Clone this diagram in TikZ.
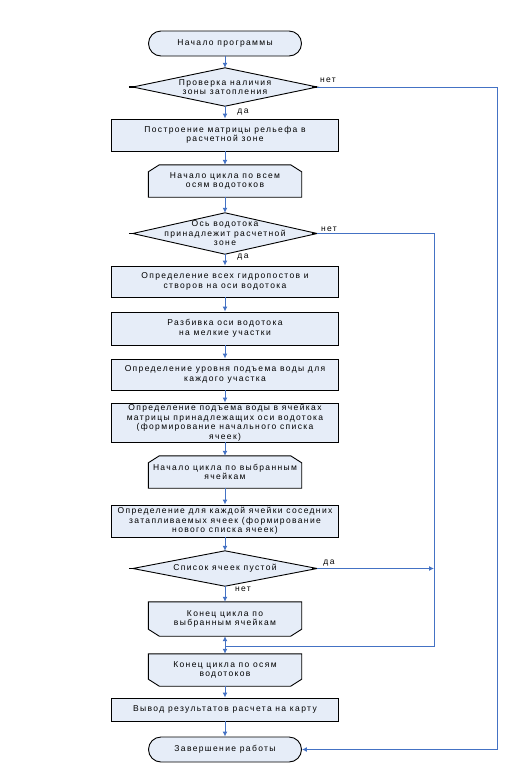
\documentclass[tikz,border=0pt]{standalone}
\usepackage{fontspec}
\newfontfamily\fc{Liberation Sans}[LetterSpace=16]
\usetikzlibrary{arrows.meta}
\definecolor{boxfill}{RGB}{230,237,248}
\definecolor{conn}{RGB}{68,114,196}
\pgfdeclarelayer{bg}
\pgfsetlayers{bg,main}
\begin{document}
\begin{tikzpicture}[x=1pt,y=-1pt,
  txt/.style={font=\fc\fontsize{8.5}{9.5}\selectfont, align=center, inner sep=0pt},
  procbox/.style={txt, draw=black, fill=boxfill, line width=0.9pt, minimum width=227pt},
  termbox/.style={txt, draw=black, fill=boxfill, line width=0.9pt, minimum width=153pt, minimum height=25pt, rounded corners=12.5pt},
  diabox/.style={txt, minimum width=184pt},
  loopbox/.style={txt, minimum width=153pt},
  shapeline/.style={draw=black, fill=boxfill, line width=0.9pt},
  stub/.style={draw=black, line width=1.8pt},
  flow/.style={draw=conn, line width=1pt, -{Latex[length=5pt,width=5pt]}},
  plain/.style={draw=conn, line width=1pt},
  lbl/.style={font=\fc\fontsize{8.5}{9.5}\selectfont, inner sep=0pt}
]
\useasboundingbox (0,0) rectangle (510,766);

% nodes
\node[termbox] (start) at (225,43.5) {Начало программы};
\node[diabox, minimum height=38pt] (d1) at (225,87) {Проверка наличия\\зоны затопления};
\node[procbox, minimum height=32pt] (r1) at (225,135) {Построение матрицы рельефа в\\расчетной зоне};
\node[loopbox, minimum height=32pt] (l1) at (225,181) {Начало цикла по всем\\осям водотоков};
\node[diabox, minimum height=41pt] (d2) at (225,233.5) {Ось водотока\\принадлежит расчетной\\зоне};
\node[procbox, minimum height=31pt] (r2) at (225,281.5) {Определение всех гидропостов и\\створов на оси водотока};
\node[procbox, minimum height=33pt] (r3) at (225,328.5) {Разбивка оси водотока\\на мелкие участки};
\node[procbox, minimum height=31pt] (r4) at (225,374.5) {Определение уровня подъема воды для\\каждого участка};
\node[procbox, minimum height=39pt] (r5) at (225,422.5) {Определение подъема воды в ячейках\\матрицы принадлежащих оси водотока\\(формирование начального списка\\ячеек)};
\node[loopbox, minimum height=32pt] (l2) at (225,472) {Начало цикла по выбранным\\ячейкам};
\node[procbox, minimum height=32pt] (r6) at (225,521) {Определение для каждой ячейки соседних\\затапливаемых ячеек (формирование\\нового списка ячеек)};
\node[diabox, minimum height=35pt] (d3) at (225,568.5) {Список ячеек пустой};
\node[loopbox, minimum height=34pt] (e1) at (225,619) {Конец цикла по\\выбранным ячейкам};
\node[loopbox, minimum height=32pt] (e2) at (225,670) {Конец цикла по осям\\водотоков};
\node[procbox, minimum height=23pt] (r7) at (225,709.5) {Вывод результатов расчета на карту};
\node[termbox] (stop) at (225,749.5) {Завершение работы};

% shapes behind text
\begin{pgfonlayer}{bg}
  \foreach \d in {d1,d2,d3}{
    \draw[shapeline] (\d.west) -- (\d.north) -- (\d.east) -- (\d.south) -- cycle;
  }
  \foreach \l in {l1,l2}{
    \draw[shapeline] (\l.south west) -- ([yshift=-7pt]\l.north west) -- ([xshift=11pt]\l.north west)
      -- ([xshift=-11pt]\l.north east) -- ([yshift=-7pt]\l.north east) -- (\l.south east) -- cycle;
  }
  \foreach \l in {e1,e2}{
    \draw[shapeline] (\l.north west) -- ([yshift=7pt]\l.south west) -- ([xshift=11pt]\l.south west)
      -- ([xshift=-11pt]\l.south east) -- ([yshift=7pt]\l.south east) -- (\l.north east) -- cycle;
  }
\end{pgfonlayer}
\foreach \d in {d1,d2,d3}{
  \draw[stub] ([xshift=-4pt]\d.west) -- ([xshift=2pt]\d.west);
  \draw[stub] ([xshift=-5pt]\d.east) -- (\d.east);
}

% straight connectors
\draw[flow] (start) -- (d1);
\draw[flow] (d1) -- (r1);
\draw[flow] (r1) -- (l1);
\draw[flow] (l1) -- (d2);
\draw[flow] (d2) -- (r2);
\draw[flow] (r2) -- (r3);
\draw[flow] (r3) -- (r4);
\draw[flow] (r4) -- (r5);
\draw[flow] (r5) -- (l2);
\draw[flow] (l2) -- (r6);
\draw[flow] (r6) -- (d3);
\draw[flow] (d3) -- (e1);
\draw[flow] (r7) -- (stop);
\draw[flow] (e2) -- (r7);

% loop-back connectors
\coordinate (j1) at (434,646);
\coordinate (jm) at (225,646);
\coordinate (k1) at (434,568.5);
\draw[plain] (d1.east) -- (497,87) -- (497,749.5) coordinate (k2);
\draw[flow] (k2) -- (stop.east);
\draw[plain] (d2.east) -- (434,233.5) -- (j1) -- (jm);
\draw[flow] (d3.east) -- (k1);
\draw[flow] (jm) -- (e1.south);
\draw[flow] (jm) -- (e2.north);

% labels
\node[lbl] (n1) at (328,80) {нет};
\node[lbl] (y1) at (243,112) {да};
\node[lbl] (n2) at (329,229) {нет};
\node[lbl] (y2) at (243,257) {да};
\node[lbl] (y3) at (329,563) {да};
\node[lbl] (n3) at (243,589) {нет};
\end{tikzpicture}
\end{document}
